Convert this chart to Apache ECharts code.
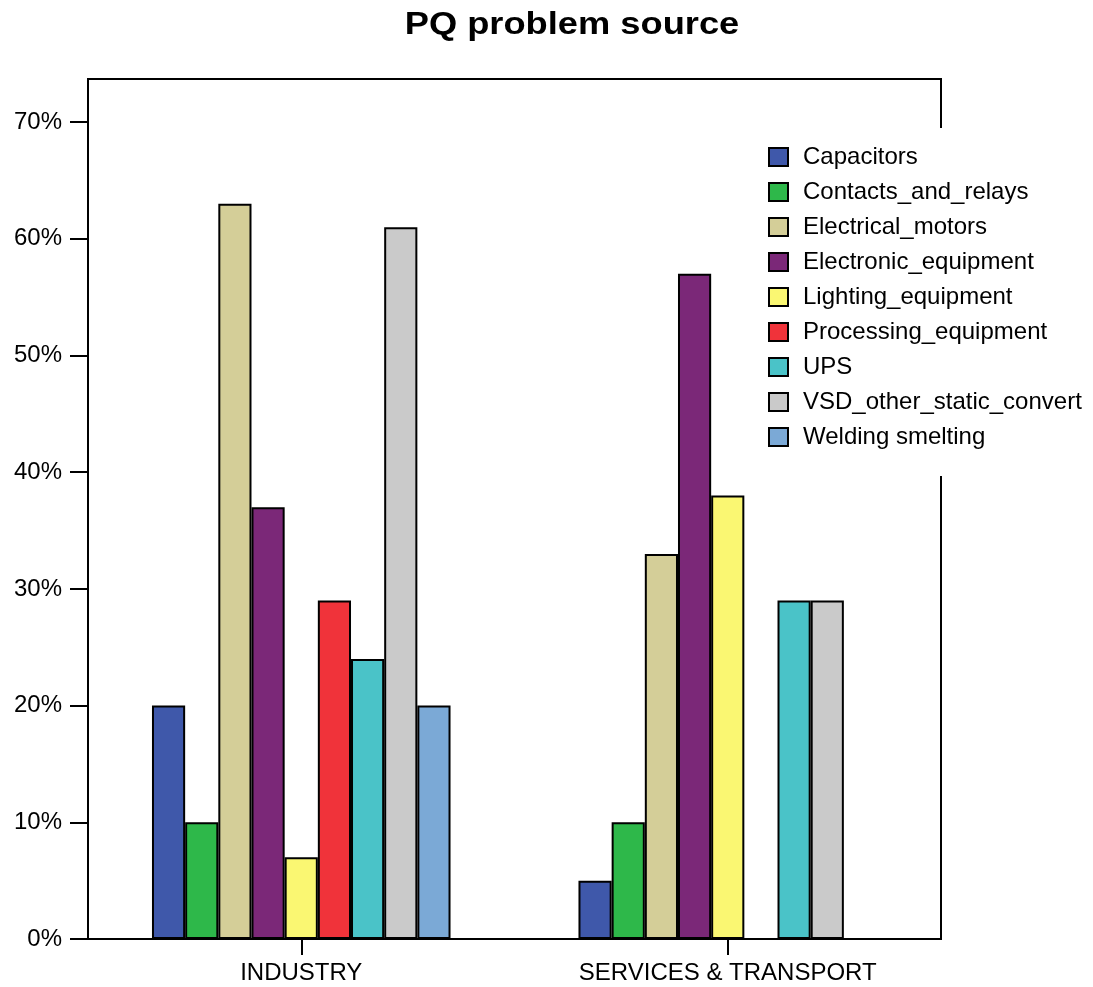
<!DOCTYPE html>
<html><head><meta charset="utf-8">
<script src="https://cdn.jsdelivr.net/npm/echarts@6/dist/echarts.min.js"></script>
<style>html,body{margin:0;padding:0;background:#fff}#c{width:1093px;height:987px}</style>
</head><body><div id="c"></div>
<script>
const categories = ['INDUSTRY', 'SERVICES & TRANSPORT'];
const seriesNames = ['Capacitors','Contacts_and_relays','Electrical_motors','Electronic_equipment','Lighting_equipment','Processing_equipment','UPS','VSD_other_static_convert','Welding smelting'];
const colors = ['#3F58AA','#2EB84A','#D4CE98','#7B2878','#FAF772','#F0333A','#4AC3C8','#CACACA','#7BA9D6'];
const capacitors = [20, 5];
const contacts = [10, 10];
const motors = [63, 33];
const electronic = [37, 57];
const lighting = [7, 38];
const processing = [29, null];
const ups = [24, 29];
const vsd = [61, 29];
const welding = [20, null];
const yTicks = [0, 10, 20, 30, 40, 50, 60, 70];
const allData = [capacitors, contacts, motors, electronic, lighting, processing, ups, vsd, welding];

const font = 'Liberation Sans, Arial, sans-serif';
const chart = echarts.init(document.getElementById('c'));
chart.setOption({
  animation: false,
  backgroundColor: '#fff',
  graphic: [{
    type: 'text', x: 572, y: 25, scaleX: 1.17, z: 20,
    style: {text: 'PQ problem source', font: 'bold 31px Liberation Sans, Arial, sans-serif', fill: '#000', textAlign: 'center', textVerticalAlign: 'middle'}
  }],
  grid: {left: 88, right: 152, top: 79, bottom: 48, show: true, borderColor: '#000', borderWidth: 2, backgroundColor: 'transparent'},
  legend: {
    orient: 'vertical', left: 762, top: 128,
    padding: [17, 20, 27, 6],
    backgroundColor: '#fff',
    itemWidth: 19, itemHeight: 18, itemGap: 11,
    icon: 'rect',
    textStyle: {fontFamily: font, fontSize: 24, color: '#000', padding: [0,0,0,10]},
    z: 10,
    data: seriesNames
  },
  xAxis: {
    type: 'category', data: categories,
    axisLine: {lineStyle: {color: '#000', width: 2}},
    axisTick: {show: true, interval: 0, alignWithLabel: true, length: 16, lineStyle: {color: '#000', width: 2}},
    axisLabel: {fontFamily: font, fontSize: 24, color: '#000', margin: 22}
  },
  yAxis: {
    type: 'value', min: 0, max: 73.7, interval: 10,
    splitLine: {show: false},
    axisLine: {show: true, lineStyle: {color: '#000', width: 2}},
    axisTick: {show: true, length: 18, lineStyle: {color: '#000', width: 2}, customValues: yTicks},
    axisLabel: {fontFamily: font, fontSize: 24, color: '#000', margin: 26, customValues: yTicks, formatter: v => v + '%'}
  },
  series: seriesNames.map((n, i) => ({
    name: n, type: 'bar', data: allData[i],
    barGap: '0%', barCategoryGap: '30%',
    itemStyle: {color: colors[i], borderColor: '#000', borderWidth: 2}
  }))
});
</script></body></html>
